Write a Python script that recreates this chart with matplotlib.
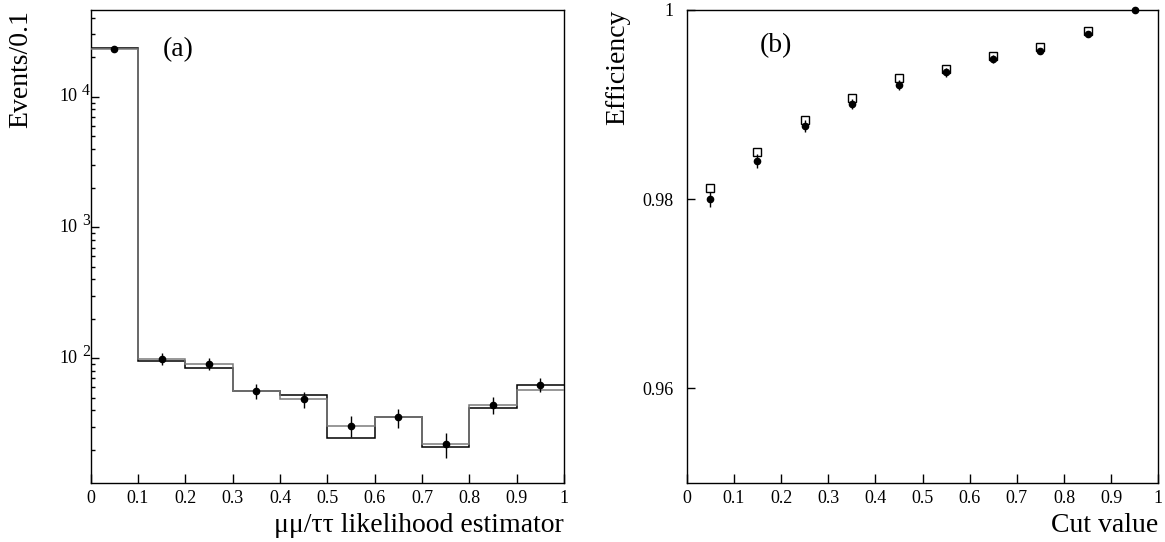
import numpy as np
import matplotlib
matplotlib.use("Agg")
import matplotlib.pyplot as plt
from matplotlib.ticker import FixedLocator, FuncFormatter, LogLocator, NullFormatter

plt.rcParams['font.family'] = ['Liberation Serif', 'DejaVu Serif']

# ---- panel (a) data ----
bin_edges = [0.0, 0.1, 0.2, 0.3, 0.4, 0.5, 0.6, 0.7, 0.8, 0.9, 1.0]
bin_centers = [0.05, 0.15, 0.25, 0.35, 0.45, 0.55, 0.65, 0.75, 0.85, 0.95]
data_counts = [22970, 99, 90, 56.4, 48.4, 30.3, 35.3, 21.9, 43.8, 62.7]
data_errors = [152, 9.9, 9.5, 7.5, 7.0, 5.5, 5.9, 4.7, 6.6, 7.9]
mc_black = [23400, 94.4, 84.5, 56.0, 52.6, 24.4, 35.7, 20.9, 41.5, 62.7]
mc_gray = [23200, 99.0, 90.6, 56.0, 48.4, 30.3, 35.3, 21.9, 44.1, 56.6]
log_tick_values = [1e2, 1e3, 1e4]
log_tick_exponents = ['2', '3', '4']

# ---- panel (b) data ----
cut_values = [0.05, 0.15, 0.25, 0.35, 0.45, 0.55, 0.65, 0.75, 0.85, 0.95]
eff_data = [0.98000, 0.98405, 0.98774, 0.99006, 0.99207, 0.99340, 0.99481, 0.99567, 0.99746, 1.00000]
eff_data_err = [0.0008, 0.00075, 0.0006, 0.00055, 0.0005, 0.00045, 0.0004, 0.00035, 0.0003, 0.0]
eff_mc = [0.98116, 0.98503, 0.98837, 0.99066, 0.99278, 0.99379, 0.99519, 0.99609, 0.99775, 1.00000]

x_ticks = [0, 0.1, 0.2, 0.3, 0.4, 0.5, 0.6, 0.7, 0.8, 0.9, 1.0]
x_ticklabels = ['0', '0.1', '0.2', '0.3', '0.4', '0.5', '0.6', '0.7', '0.8', '0.9', '1']

W, H = 1165, 542
fig = plt.figure(figsize=(W / 100, H / 100), dpi=100)

ax1 = fig.add_axes([90.7 / W, 1 - 483 / H, 473.3 / W, 473 / H])
ax2 = fig.add_axes([686.7 / W, 1 - 483 / H, 471.6 / W, 473 / H])

tick_fs = 13
title_fs = 20

# ---- panel (a) ----
ax1.stairs(mc_black, bin_edges, baseline=None, color='black', lw=1.1, zorder=2)
ax1.stairs(mc_gray, bin_edges, baseline=None, color='#7a7a7a', lw=1.1, zorder=3)
ax1.errorbar(bin_centers, data_counts, yerr=data_errors, fmt='o', color='black',
             ms=4.5, elinewidth=1.0, capsize=0, zorder=4)
ax1.set_yscale('log')
ax1.set_xlim(0, 1)
ax1.set_ylim(11.1, 45900)
ax1.yaxis.set_major_locator(FixedLocator(log_tick_values))
ax1.yaxis.set_major_formatter(NullFormatter())
ax1.yaxis.set_minor_locator(LogLocator(base=10, subs=np.arange(2, 10)))
ax1.yaxis.set_minor_formatter(NullFormatter())
# ROOT-style "10 ^n" labels: base and a slightly smaller raised exponent
for v, e in zip(log_tick_values, log_tick_exponents):
    ax1.annotate('10', xy=(0, v), xycoords=('axes fraction', 'data'),
                 xytext=(-9.9, 0), textcoords='offset points',
                 ha='right', va='center', fontsize=tick_fs, annotation_clip=False)
    ax1.annotate(e, xy=(0, v), xycoords=('axes fraction', 'data'),
                 xytext=(-6.3, 4.3), textcoords='offset points',
                 ha='left', va='center', fontsize=11.3, annotation_clip=False)
ax1.text(0.153, 22850, '(a)', fontsize=title_fs, va='center', ha='left')

# ---- panel (b) ----
ax2.errorbar(cut_values, eff_data, yerr=eff_data_err, fmt='o', color='black',
             ms=4.5, elinewidth=1.0, capsize=0, zorder=3, clip_on=False)
ax2.plot(cut_values[:-1], eff_mc[:-1], 's', mfc='white', mec='black', ms=5.8,
         mew=1.0, zorder=2, linestyle='none')
ax2.set_xlim(0, 1)
ax2.set_ylim(0.95, 1.0)
ax2.yaxis.set_major_locator(FixedLocator([0.96, 0.98, 1.0]))
ax2.yaxis.set_major_formatter(FuncFormatter(
    lambda v, p: '1' if abs(v - 1) < 1e-9 else ('%.2f' % v)))
ax2.text(0.1554, 0.9962, '(b)', fontsize=title_fs, va='center', ha='left')

for ax in (ax1, ax2):
    ax.xaxis.set_major_locator(FixedLocator(x_ticks))
    ax.set_xticklabels(x_ticklabels)
    ax.tick_params(axis='both', which='both', direction='in', top=False, right=False,
                   labelsize=tick_fs, width=1.0)
    ax.tick_params(axis='x', which='major', length=6.2, pad=5)
    ax.tick_params(axis='y', which='major', length=6.0)
    ax.tick_params(axis='y', which='minor', length=3.0)
    for s in ax.spines.values():
        s.set_linewidth(1.0)

ax2.tick_params(axis='y', which='major', pad=9.5)

# axis titles
fig.text(21 / W, 1 - 10 / H, 'Events/0.1', rotation=90, ha='center', va='top', fontsize=title_fs)
fig.text(617.5 / W, 1 - 10 / H, 'Efficiency', rotation=90, ha='center', va='top', fontsize=title_fs)
fig.text(564 / W, 1 - 532 / H, 'μμ/ττ likelihood estimator', ha='right', va='baseline', fontsize=title_fs)
fig.text(1158 / W, 1 - 532 / H, 'Cut value', ha='right', va='baseline', fontsize=title_fs)

fig.savefig('out.png', dpi=100)
